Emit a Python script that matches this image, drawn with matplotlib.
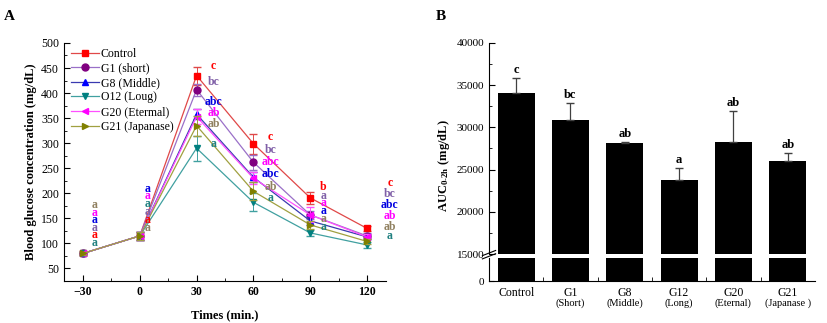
import numpy as np
import matplotlib.pyplot as plt
from matplotlib.ticker import MultipleLocator

plt.rcParams['font.family'] = ['Liberation Serif', 'DejaVu Serif']
plt.rcParams['mathtext.fontset'] = 'stix'

# ---- panel A data: blood glucose (mg/dL) over time ----
times = [-30, 0, 30, 60, 90, 120]
groups_a = ['Control', 'G1 (short)', 'G8 (Middle)', 'O12 (Loug)', 'G20 (Etermal)', 'G21 (Japanase)']
control = [80, 115, 435, 299, 191, 130]
g1 = [80, 115, 407, 262, 157, 115]
g8 = [80, 115, 358, 232, 145, 113]
g12 = [80, 115, 290, 182, 121, 97]
g20 = [80, 115, 353, 230, 157, 113]
g21 = [80, 115, 335, 204, 137, 104]
control_err = [3, 8, 18, 20, 12, 5]
g1_err = [3, 8, 12, 15, 8, 5]
g8_err = [3, 8, 10, 10, 8, 5]
g12_err = [3, 8, 25, 18, 6, 6]
g20_err = [3, 8, 15, 12, 15, 5]
g21_err = [3, 8, 20, 18, 8, 5]

# significance letters per time point (top to bottom) with their group colour index
letters_a = {
    -30: (['a', 'a', 'a', 'a', 'a', 'a'], [5, 4, 2, 1, 0, 3], [177, 161, 147, 131, 116, 100]),
    0: (['a', 'a', 'a', 'a', 'a', 'a'], [2, 4, 3, 1, 0, 5], [209, 195, 179, 163, 147, 131]),
    30: (['c', 'bc', 'abc', 'ab', 'ab', 'a'], [0, 1, 2, 4, 5, 3], [454, 422, 383, 360, 339, 299]),
    60: (['c', 'bc', 'abc', 'abc', 'ab', 'a'], [0, 1, 4, 2, 5, 3], [313, 287, 263, 239, 213, 191]),
    90: (['b', 'a', 'a', 'a', 'a', 'a'], [0, 1, 4, 2, 5, 3], [213, 195, 180, 165, 149, 133]),
    120: (['c', 'bc', 'abc', 'ab', 'ab', 'a'], [0, 1, 2, 4, 5, 3], [221, 199, 177, 155, 133, 115]),
}

# ---- panel B data: AUC 0-2h ----
groups_b = ['Control', 'G1', 'G8', 'G12', 'G20', 'G21']
subtitles_b = ['', '(Short)', '(Middle)', '(Long)', '(Eternal)', '(Japanase )']
auc = [34050, 30850, 28100, 23750, 28200, 25950]
auc_err = [1800, 2050, 200, 1400, 3700, 1000]
letters_b = ['c', 'bc', 'ab', 'a', 'ab', 'ab']

series = [control, g1, g8, g12, g20, g21]
errs = [control_err, g1_err, g8_err, g12_err, g20_err, g21_err]
markers = ['s', 'o', '^', 'v', '<', '>']
line_colors = ['#e04848', '#9a70c8', '#3a3ab0', '#40a0a0', '#ff50ff', '#a0a040']
mark_colors = ['#ff0000', '#800080', '#0000ff', '#008080', '#ff00ff', '#808000']
text_colors = ['#ff0000', '#8060a8', '#0000e0', '#208080', '#ff00ff', '#908060']

fig = plt.figure(figsize=(8.27, 3.23), dpi=100)

# ================= panel A =================
ax = fig.add_axes([0.0774, 0.130, 0.3893, 0.737])
for i in range(len(series)):
    ax.errorbar(times, series[i], yerr=errs[i], fmt='none', ecolor=line_colors[i],
                elinewidth=0.7, capsize=3)
    ax.plot(times, series[i], color=line_colors[i], lw=0.9, marker=markers[i], ms=5,
            mfc=mark_colors[i], mec=mark_colors[i], label=groups_a[i])

offsets = {-30: 6, 0: 4, 30: 9, 60: 9, 90: 7, 120: 12}
for t, (labs, cidx, ys) in letters_a.items():
    for lab, ci, yy in zip(labs, cidx, ys):
        ax.text(t + offsets[t], yy, lab, color=text_colors[ci], fontsize=8.5,
                fontweight='bold', ha='center', va='center')

ax.set_xlim(-40, 130)
ax.set_ylim(25, 500)
ax.set_xticks(times)
ax.set_yticks(np.arange(50, 501, 50))
ax.xaxis.set_minor_locator(MultipleLocator(15))
ax.yaxis.set_minor_locator(MultipleLocator(25))
ax.tick_params(which='both', direction='in', labelsize=8.5)
ax.tick_params(which='major', length=4)
ax.tick_params(which='minor', length=2)
for lab in ax.get_xticklabels():
    lab.set_fontweight('bold')
ax.spines['top'].set_visible(False)
ax.spines['right'].set_visible(False)
ax.set_xlabel('Times (min.)', fontsize=9, fontweight='bold', labelpad=8)
ax.set_ylabel('Blood glucose concentration (mg/dL)', fontsize=9, fontweight='bold', labelpad=3)
ax.legend(loc='upper left', bbox_to_anchor=(0.0, 1.01), frameon=False, fontsize=8.5,
          handlelength=2.4, labelspacing=0.22, handletextpad=0.1, borderaxespad=0.2)
fig.text(0.005, 0.95, 'A', fontsize=11, fontweight='bold', va='center')

# ================= panel B =================
x = np.arange(len(groups_b))
axu = fig.add_axes([0.5913, 0.2136, 0.394, 0.654])
axl = fig.add_axes([0.5913, 0.130, 0.394, 0.071])

axu.bar(x, auc, width=0.68, color='black')
axu.errorbar(x, auc, yerr=[np.zeros(len(auc)), auc_err], fmt='none', ecolor='#404040',
             elinewidth=0.9, capsize=3)
for xi, v, e, lab in zip(x, auc, auc_err, letters_b):
    axu.text(xi, v + e + 250, lab, fontsize=9, fontweight='bold', ha='center', va='bottom')
axl.bar(x, auc, width=0.68, color='black')

for a in (axu, axl):
    a.set_xlim(-0.5, 5.5)
    a.spines['top'].set_visible(False)
    a.spines['right'].set_visible(False)
    a.tick_params(which='both', direction='in', labelsize=8)

axu.set_ylim(15000, 40000)
axu.set_yticks(np.arange(15000, 40001, 5000))
axu.yaxis.set_minor_locator(MultipleLocator(2500))
axu.tick_params(which='major', length=4)
axu.tick_params(which='minor', length=2)
axu.spines['bottom'].set_visible(False)
axu.set_xticks([])
axu.set_ylabel(r'AUC$_{\mathregular{0\text{-}2h}}$ (mg/dL)', fontsize=9,
               fontweight='bold', labelpad=3, y=0.42)

axl.set_ylim(0, 2700)
axl.set_yticks([0])
axl.set_xticks(x)
axl.set_xticklabels(groups_b, fontsize=8.5)
axl.set_xticks(x[:-1] + 0.5, minor=True)
axl.tick_params(axis='x', which='major', length=0, pad=4)
axl.tick_params(axis='x', which='minor', length=3)
for xi, sub in zip(x, subtitles_b):
    axl.text(xi, -0.75, sub, fontsize=7.5, ha='center', va='top',
             transform=axl.get_xaxis_transform())

# break marks on the left spine
d = 0.008
kw = dict(transform=fig.transFigure, color='black', lw=0.8, clip_on=False)
for yb in (0.2065, 0.2165):
    fig.add_artist(plt.Line2D([0.5913 - d, 0.5913 + d], [yb - 0.008, yb + 0.008], **kw))

fig.text(0.527, 0.95, 'B', fontsize=11, fontweight='bold', va='center')

fig.savefig('out.png', dpi=100)
